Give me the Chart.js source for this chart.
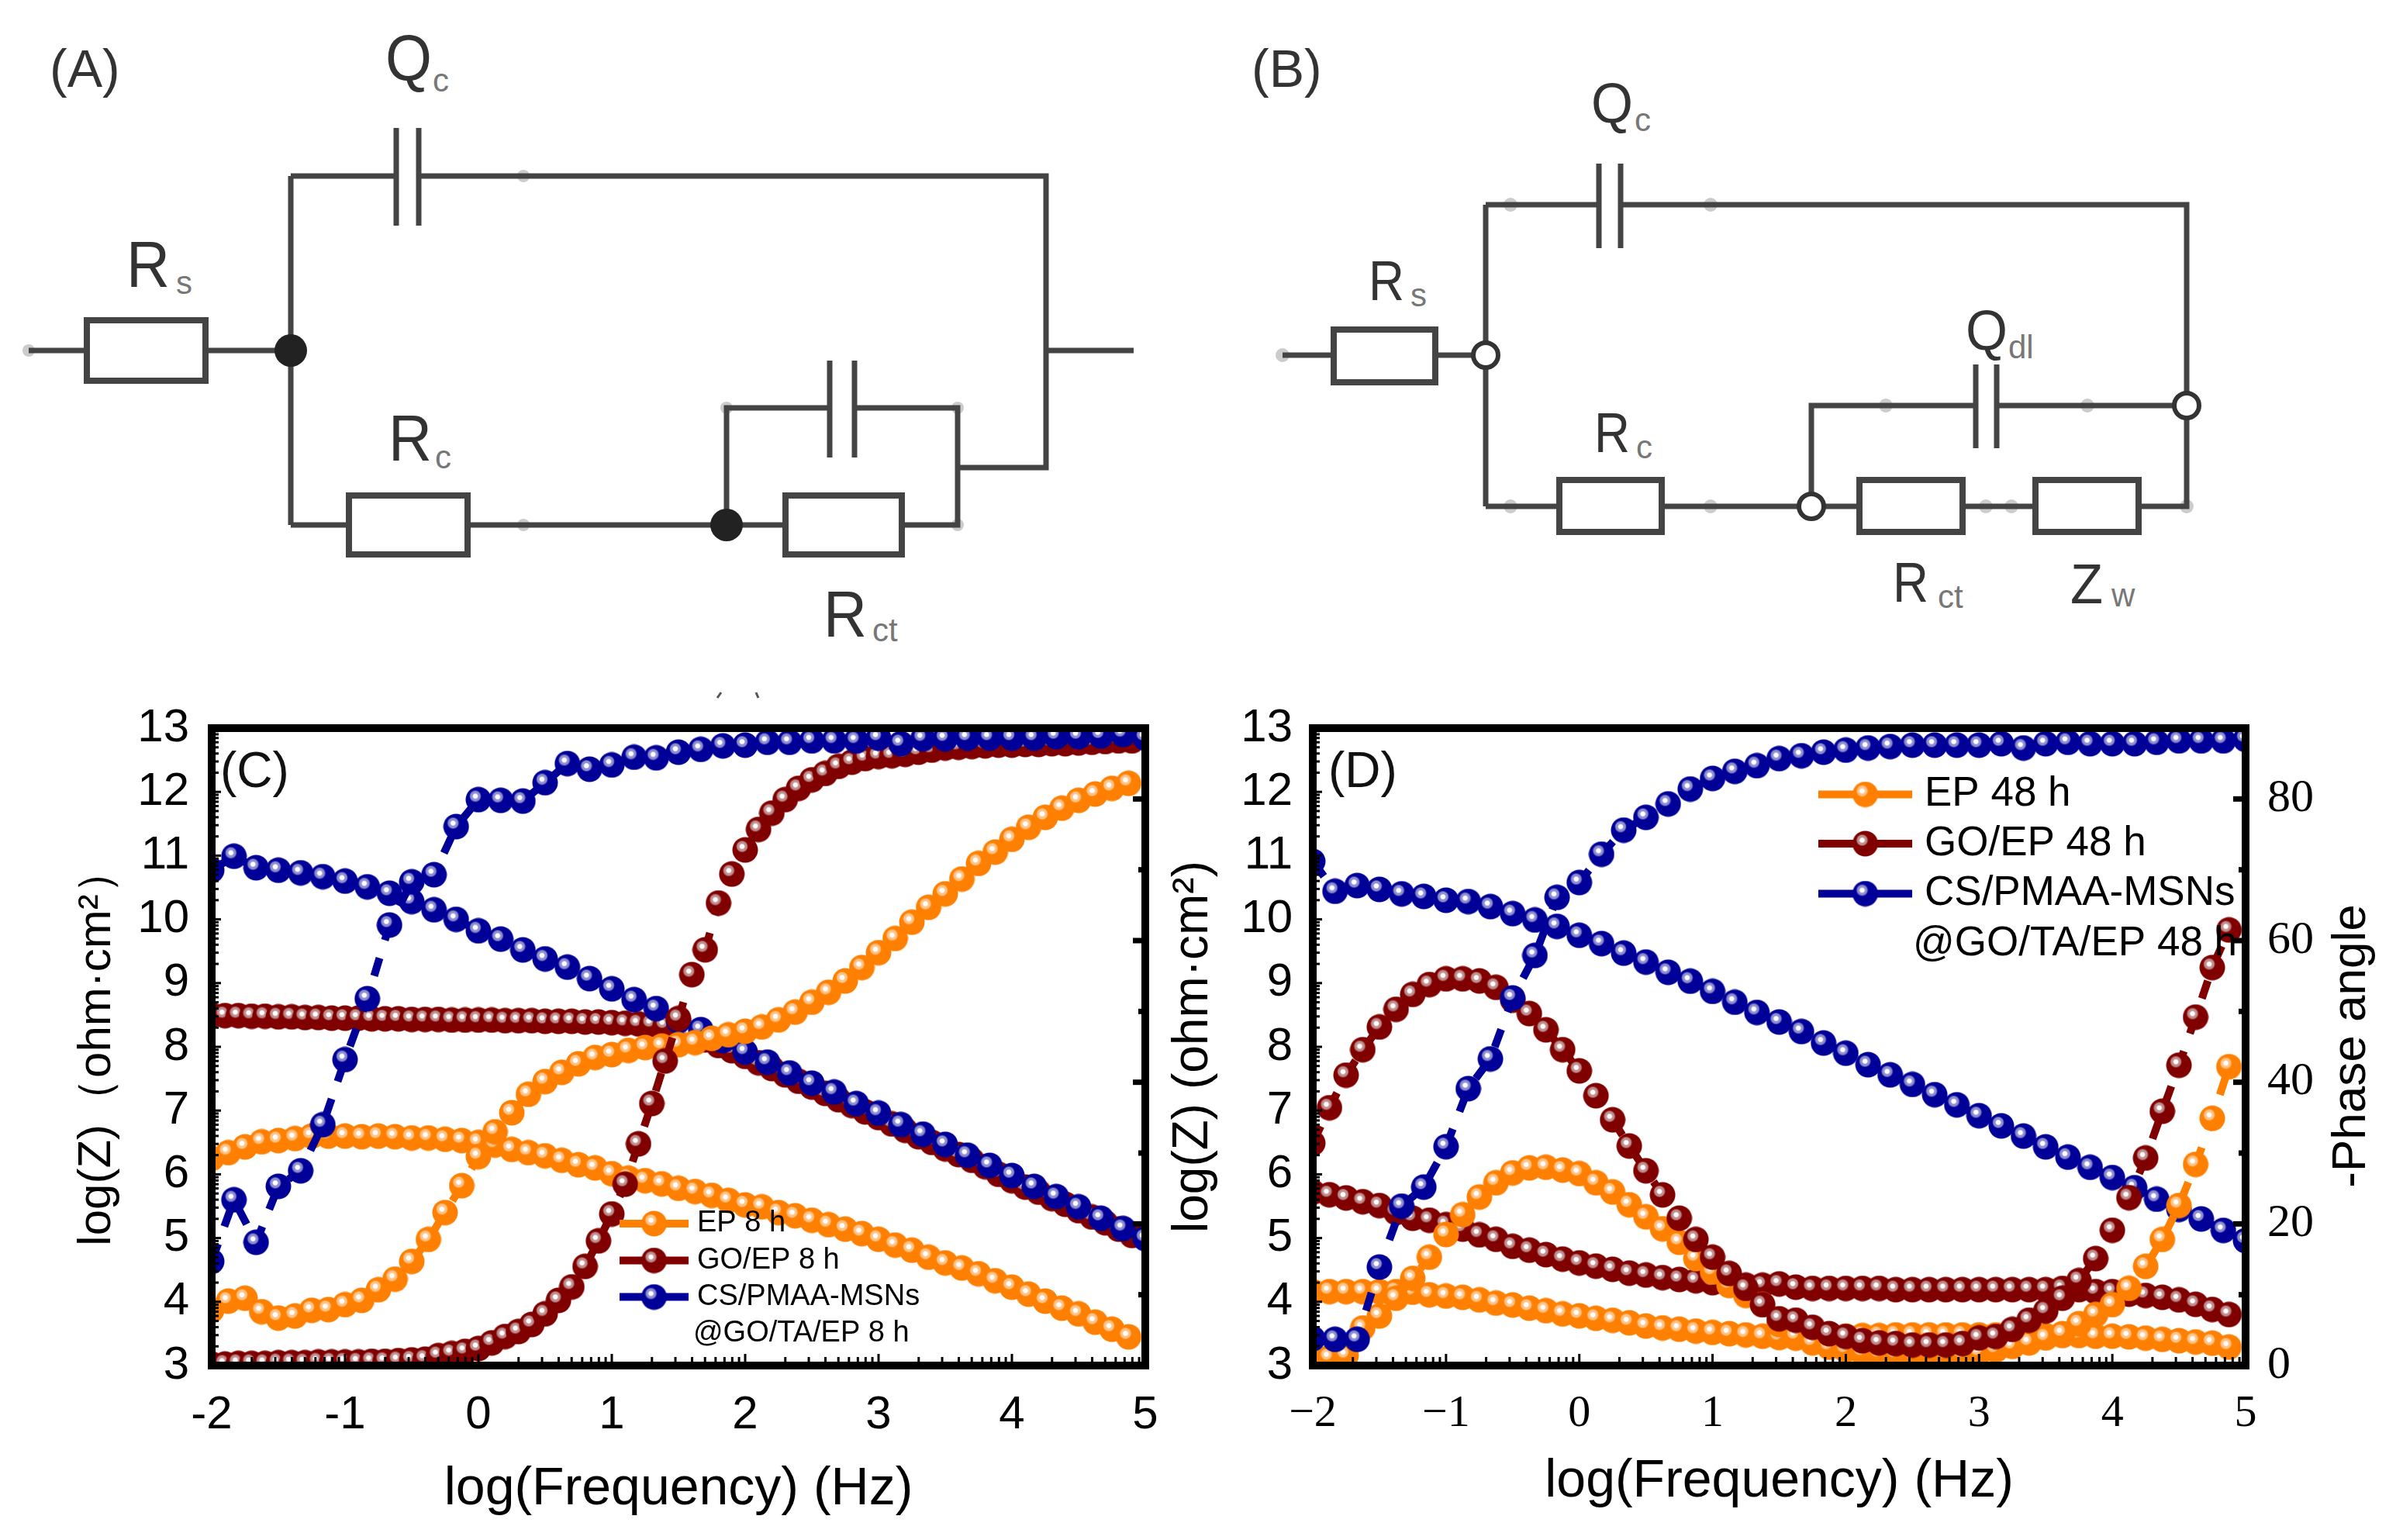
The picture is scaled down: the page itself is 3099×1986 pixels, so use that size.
<!DOCTYPE html>
<html>
<head>
<meta charset="utf-8">
<title>EIS</title>
<script src="https://cdn.jsdelivr.net/npm/chart.js@4/dist/chart.umd.min.js"></script>
<style>
  html, body { margin: 0; padding: 0; background: #fff; width: 3099px; height: 1986px; overflow: hidden; }
  canvas { position: absolute; }
  svg { position: absolute; left: 0; top: 0; }
  .ln { stroke: #444; stroke-width: 7; fill: none; }
  .box { stroke: #444; stroke-width: 8; fill: #fff; }
  .dot { fill: #ccc; }
  .big { font-family: "Liberation Sans"; fill: #333; }
  .sub { font-family: "Liberation Sans"; fill: #777; font-size: 42px; }
  .panel { font-family: "Liberation Sans"; fill: #111; }
</style>
</head>
<body>
<svg width="3099" height="1986" xmlns="http://www.w3.org/2000/svg">
  <!-- circuit A -->
  <g>
    <circle class="dot" cx="675" cy="227" r="8"/><circle class="dot" cx="675" cy="677" r="8"/>
    <circle class="dot" cx="37" cy="452" r="8"/><circle class="dot" cx="1235" cy="526" r="8"/>
    <circle class="dot" cx="937" cy="526" r="8"/><circle class="dot" cx="1235" cy="677" r="8"/>
    <path class="ln" d="M37 452H112M265 452H375M375 227V677M375 227H511M540 227H1349V603H1235M1349 452H1462"/>
    <path class="ln" d="M511 165V291M540 165V291M1070 465V590M1102 465V590"/>
    <path class="ln" d="M375 677H450M603 677H1013M1163 677H1235V526H1102M1070 526H937V677"/>
    <rect class="box" x="112" y="413" width="153" height="78"/>
    <rect class="box" x="450" y="639" width="153" height="76"/>
    <rect class="box" x="1013" y="639" width="150" height="76"/>
    <circle cx="375" cy="452" r="21" fill="#222"/><circle cx="937" cy="677" r="21" fill="#222"/>
    <path d="M925 900L930 893M975 893L978 900" stroke="#555" stroke-width="3" fill="none"/>
    <text class="big" x="64" y="112" font-size="68">(A)</text>
    <text class="big" x="497" y="103" font-size="84" textLength="60" lengthAdjust="spacingAndGlyphs">Q</text><text class="sub" x="558" y="118">c</text>
    <text class="big" x="163" y="370" font-size="84" textLength="56" lengthAdjust="spacingAndGlyphs">R</text><text class="sub" x="227" y="379">s</text>
    <text class="big" x="501" y="594" font-size="84" textLength="56" lengthAdjust="spacingAndGlyphs">R</text><text class="sub" x="561" y="604">c</text>
    <text class="big" x="1062" y="821" font-size="84" textLength="56" lengthAdjust="spacingAndGlyphs">R</text><text class="sub" x="1125" y="827">ct</text>
  </g>
  <!-- circuit B -->
  <g>
    <circle class="dot" cx="1654" cy="458" r="9"/><circle class="dot" cx="1948" cy="264" r="9"/>
    <circle class="dot" cx="2206" cy="264" r="9"/><circle class="dot" cx="1948" cy="653" r="9"/>
    <circle class="dot" cx="2206" cy="653" r="9"/><circle class="dot" cx="2432" cy="523" r="9"/>
    <circle class="dot" cx="2692" cy="523" r="9"/><circle class="dot" cx="2561" cy="653" r="9"/>
    <circle class="dot" cx="2594" cy="653" r="9"/><circle class="dot" cx="2820" cy="653" r="9"/>
    <path class="ln" d="M1654 458H1720M1851 458H1916M1916 264V653M1916 264H2062M2090 264H2820V653H2758"/>
    <path class="ln" d="M2062 211V320M2090 211V320M2548 470V578M2575 470V578"/>
    <path class="ln" d="M2820 523H2575M2548 523H2336V653M1916 653H2011M2143 653H2398M2531 653H2625"/>
    <rect class="box" x="1720" y="425" width="131" height="68"/>
    <rect class="box" x="2011" y="619" width="132" height="67"/>
    <rect class="box" x="2398" y="619" width="133" height="67"/>
    <rect class="box" x="2625" y="619" width="133" height="67"/>
    <circle cx="1916" cy="458" r="16" fill="#fff" stroke="#333" stroke-width="6"/>
    <circle cx="2336" cy="653" r="16" fill="#fff" stroke="#333" stroke-width="6"/>
    <circle cx="2820" cy="523" r="16" fill="#fff" stroke="#333" stroke-width="6"/>
    <text class="big" x="1614" y="112" font-size="68">(B)</text>
    <text class="big" x="2052" y="158" font-size="72" textLength="54" lengthAdjust="spacingAndGlyphs">Q</text><text class="sub" x="2108" y="169">c</text>
    <text class="big" x="1765" y="387" font-size="72" textLength="46" lengthAdjust="spacingAndGlyphs">R</text><text class="sub" x="1819" y="395">s</text>
    <text class="big" x="2535" y="451" font-size="72" textLength="54" lengthAdjust="spacingAndGlyphs">Q</text><text class="sub" x="2590" y="462">dl</text>
    <text class="big" x="2056" y="583" font-size="72" textLength="46" lengthAdjust="spacingAndGlyphs">R</text><text class="sub" x="2110" y="591">c</text>
    <text class="big" x="2441" y="776" font-size="72" textLength="46" lengthAdjust="spacingAndGlyphs">R</text><text class="sub" x="2499" y="784">ct</text>
    <text class="big" x="2670" y="778" font-size="72" textLength="42" lengthAdjust="spacingAndGlyphs">Z</text><text class="sub" x="2723" y="782">w</text>
  </g>
</svg>
<canvas id="chartC" width="1510" height="1086" style="left:0px;top:900px"></canvas>
<canvas id="chartD" width="1639" height="1086" style="left:1460px;top:900px"></canvas>
<svg width="3099" height="1986" xmlns="http://www.w3.org/2000/svg" style="pointer-events:none">
  <text class="panel" x="284" y="1015" font-size="64">(C)</text>
  <text class="panel" x="1713" y="1015" font-size="64">(D)</text>
</svg>

<script>
// log(f) grids, one per sampling density
const x6 = [-2,-1.833,-1.667,-1.5,-1.333,-1.167,-1,-0.833,-0.667,-0.5,-0.333,-0.167,0,0.167,0.333,0.5,0.667,0.833,1,1.167,1.333,1.5,1.667,1.833,2,2.167,2.333,2.5,2.667,2.833,3,3.167,3.333,3.5,3.667,3.833,4,4.167,4.333,4.5,4.667,4.833,5];
const x8 = [-2,-1.875,-1.75,-1.625,-1.5,-1.375,-1.25,-1.125,-1,-0.875,-0.75,-0.625,-0.5,-0.375,-0.25,-0.125,0,0.125,0.25,0.375,0.5,0.625,0.75,0.875,1,1.125,1.25,1.375,1.5,1.625,1.75,1.875,2,2.125,2.25,2.375,2.5,2.625,2.75,2.875,3,3.125,3.25,3.375,3.5,3.625,3.75,3.875,4,4.125,4.25,4.375,4.5,4.625,4.75,4.875];
const x10 = [-2,-1.9,-1.8,-1.7,-1.6,-1.5,-1.4,-1.3,-1.2,-1.1,-1,-0.9,-0.8,-0.7,-0.6,-0.5,-0.4,-0.3,-0.2,-0.1,0,0.1,0.2,0.3,0.4,0.5,0.6,0.7,0.8,0.9,1,1.1,1.2,1.3,1.4,1.5,1.6,1.7,1.8,1.9,2,2.1,2.2,2.3,2.4,2.5,2.6,2.7,2.8,2.9,3,3.1,3.2,3.3,3.4,3.5,3.6,3.7,3.8,3.9,4,4.1,4.2,4.3,4.4,4.5,4.6,4.7,4.8,4.9];

// panel C, 8 h
const zEp8 = [6.25,6.34,6.43,6.51,6.53,6.56,6.6,6.6,6.6,6.59,6.6,6.59,6.57,6.57,6.55,6.53,6.5,6.46,6.39,6.34,6.29,6.22,6.15,6.1,6.01,5.94,5.9,5.85,5.78,5.73,5.67,5.59,5.52,5.49,5.4,5.35,5.28,5.21,5.14,5.07,4.98,4.89,4.81,4.7,4.61,4.53,4.44,4.33,4.23,4.12,4.01,3.9,3.81,3.68,3.57,3.45];
const phEp8 = [7.8,9.1,9.5,7.6,6.7,7,7.8,7.9,8.6,9.2,10.7,12.2,14.7,17.8,21.6,25.4,29.5,33,35.7,38.3,40.1,41.4,42.6,43.5,43.9,44.5,44.9,45.1,45.3,45.6,46.2,46.7,47.2,47.8,48.8,49.9,51.3,52.7,54.3,56.2,58.3,60.3,62.6,64.7,66.6,68.7,70.9,72.5,74.3,76,77.4,78.7,79.8,80.7,81.5,82.2];
const zGo8 = [8.5,8.49,8.49,8.48,8.48,8.47,8.47,8.46,8.46,8.45,8.45,8.45,8.44,8.44,8.44,8.43,8.43,8.43,8.42,8.42,8.42,8.42,8.41,8.41,8.41,8.4,8.4,8.4,8.39,8.39,8.38,8.37,8.36,8.35,8.33,8.27,8.19,8.11,8.02,7.94,7.85,7.75,7.66,7.56,7.46,7.37,7.27,7.17,7.08,6.98,6.89,6.79,6.69,6.59,6.5,6.4,6.31,6.22,6.12,6.0,5.9,5.8,5.72,5.62,5.53,5.43,5.33,5.24,5.14,5.04];
const phGo8 = [0.2,0.2,0.3,0.3,0.3,0.4,0.4,0.4,0.5,0.5,0.5,0.5,0.6,0.6,0.7,0.8,0.9,1.4,1.7,2,2.4,3.2,4.1,4.8,5.8,7.3,9.2,11.1,14,17.6,21.4,25.6,31.3,37,43,49,55.2,58.7,65.3,69.4,72.8,75.7,78,79.9,81.5,82.7,83.6,84.6,85.2,85.7,86,86.1,86.3,86.6,86.9,87.2,87.3,87.4,87.5,87.6,87.6,87.7,87.7,87.8,87.8,87.9,88,88.1,88.2,88.2];
const zCs8 = [10.77,10.99,10.81,10.77,10.73,10.67,10.6,10.51,10.41,10.28,10.15,10,9.82,9.69,9.52,9.38,9.25,9.07,8.91,8.74,8.6,8.41,8.27,8.1,7.92,7.76,7.59,7.43,7.29,7.11,6.96,6.78,6.63,6.47,6.3,6.14,5.98,5.81,5.65,5.49,5.31,5.15,4.99];
const phCs8 = [14.7,23.4,17.4,25.3,27.5,34,43.2,51.8,62.2,68.3,69.3,76.1,79.9,79.8,79.7,82.3,85,84.2,84.8,85.9,85.8,86.6,87,87.5,87.6,88,88,88.2,88.2,88.2,88.6,87.8,88.5,88.5,88.6,88.6,88.6,88.6,88.8,88.8,88.9,89.1,88.6];

// panel D, 48 h
const zEp48 = [4.16,4.16,4.16,4.16,4.16,4.16,4.15,4.11,4.09,4.07,4.03,3.98,3.95,3.9,3.86,3.81,3.78,3.74,3.71,3.67,3.62,3.59,3.57,3.54,3.52,3.5,3.48,3.46,3.44,3.43,3.44,3.45,3.46,3.47,3.47,3.48,3.48,3.48,3.48,3.48,3.48,3.48,3.48,3.47,3.47,3.47,3.47,3.46,3.46,3.45,3.43,3.41,3.39,3.37,3.35,3.29];
const phEp48 = [0.9,1.1,1.4,5.3,7,9.5,12.3,15.3,18.5,21.3,23.8,25.8,27.2,27.9,28,27.6,27.1,25.8,24.5,22.7,21,19.3,17.4,15.1,13.2,11.3,9.9,8.6,5.8,4.1,3.2,2.6,2.2,1.8,1.6,1.5,1.4,1.4,1.4,1.5,1.8,2.2,2.7,3.2,3.9,4.5,5.9,7.2,8.6,10.9,14,17.8,22.6,28.4,34.9,42.2];
const zGo48 = [5.72,5.68,5.63,5.57,5.51,5.4,5.31,5.28,5.21,5.14,5.05,4.98,4.87,4.81,4.74,4.67,4.61,4.56,4.51,4.45,4.42,4.38,4.35,4.33,4.3,4.29,4.26,4.26,4.28,4.23,4.21,4.21,4.21,4.21,4.21,4.19,4.19,4.19,4.19,4.19,4.19,4.19,4.19,4.19,4.19,4.21,4.19,4.16,4.16,4.12,4.1,4.07,4.03,3.96,3.88,3.8];
const phGo48 = [31.4,36.4,41,44.6,47.8,50.3,52.4,53.8,54.6,54.6,54.3,53.4,51.6,49.7,47.4,44.6,41.6,38.1,34.7,31,27.5,24.1,20.8,17.8,15.3,13,10.9,8.6,6.6,6.4,5.4,4.5,4.1,3.5,3.2,3.1,2.9,2.9,2.9,3.1,3.9,4.1,5.1,6.4,7.7,9.5,12,15.1,19.1,23.7,29.3,35.9,42.4,49.2,56.2,61.5];
const zCs48 = [10.91,10.44,10.53,10.47,10.4,10.36,10.3,10.28,10.2,10.09,9.99,9.89,9.75,9.62,9.47,9.33,9.17,9.03,8.87,8.7,8.54,8.39,8.24,8.06,7.9,7.72,7.56,7.41,7.25,7.09,6.92,6.76,6.6,6.43,6.27,6.11,5.95,5.79,5.61,5.45,5.3,5.12,4.96];
const phCs48 = [3.8,3.7,3.7,13.9,22.5,25.2,30.9,39.1,43.3,51.9,57.9,66.1,68.2,72.2,75.6,77.4,79.3,81.4,82.9,83.9,84.7,85.7,86.1,86.6,86.9,87.2,87.4,87.6,87.6,87.6,87.6,87.8,87.2,87.8,88,87.8,87.8,87.8,88,88.2,88.2,88.2,88.4];

// ticks
const xTicksC = ["-2","-1","0","1","2","3","4","5"];
const xTicksD = ["\u22122","\u22121","0","1","2","3","4","5"];
const yTicks = ["3","4","5","6","7","8","9","10","11","12","13"];
const phaseTicks = ["0","20","40","60","80"];
const logMinor = [0.301,0.477,0.602,0.699,0.778,0.845,0.903,0.954];

const namesC = ["EP 8 h","GO/EP 8 h","CS/PMAA-MSNs","@GO/TA/EP 8 h"];
const namesD = ["EP 48 h","GO/EP 48 h","CS/PMAA-MSNs","@GO/TA/EP 48 h"];

const ORANGE = "#ff8000", MAROON = "#800000", BLUE = "#000099";
const SANS = "Liberation Sans", SERIF = "Liberation Serif";

// shiny ball marker
function ball(color, light) {
  var c = document.createElement("canvas");
  c.width = 34; c.height = 34;
  var g = c.getContext("2d");
  g.fillStyle = color;
  g.beginPath(); g.arc(17, 17, 16.5, 0, Math.PI * 2); g.fill();
  var hx = 13, hy = 12.5;
  var grad = g.createRadialGradient(hx, hy, 0, hx, hy, 8);
  grad.addColorStop(0, "#ffffff");
  grad.addColorStop(0.32, "#ffffff");
  grad.addColorStop(0.5, light);
  grad.addColorStop(0.75, light);
  grad.addColorStop(1, color);
  g.fillStyle = grad;
  g.beginPath(); g.arc(hx, hy, 8, 0, Math.PI * 2); g.fill();
  return c;
}
const ballOrange = ball(ORANGE, "#ffc48a");
const ballMaroon = ball(MAROON, "#c08f8f");
const ballBlue = ball(BLUE, "#8f8fd0");

function series(xs, ys, color, img, axis) {
  return {
    data: xs.map(function (x, i) { return { x: x, y: ys[i] }; }),
    yAxisID: axis,
    borderColor: color,
    backgroundColor: color,
    borderWidth: 10,
    borderDash: [24, 24],
    pointStyle: img,
    pointRadius: 16,
    tension: 0,
    clip: 0
  };
}

// frame, inward ticks and legend, drawn over the data
const decor = {
  id: "decor",
  afterDatasetsDraw: function (chart, args, opts) {
    var ctx = chart.ctx, a = chart.chartArea;
    var sx = chart.scales.x, sy = chart.scales.y, sp = chart.scales.y2;
    ctx.save();
    ctx.strokeStyle = "#000";
    ctx.lineWidth = 3;
    for (var n = -2; n <= 5; n++) {
      var px = sx.getPixelForValue(n);
      ctx.beginPath(); ctx.moveTo(px, a.bottom); ctx.lineTo(px, a.bottom - 15); ctx.stroke();
      logMinor.forEach(function (m) {
        if (n + m > 5) return;
        var p = sx.getPixelForValue(n + m);
        ctx.beginPath(); ctx.moveTo(p, a.bottom); ctx.lineTo(p, a.bottom - 11); ctx.stroke();
      });
    }
    for (var k = 3; k <= 13; k++) {
      var py = sy.getPixelForValue(k);
      ctx.beginPath(); ctx.moveTo(a.left, py); ctx.lineTo(a.left + 12, py); ctx.stroke();
      logMinor.forEach(function (m) {
        if (k + m > 13) return;
        var p = sy.getPixelForValue(k + m);
        ctx.beginPath(); ctx.moveTo(a.left, p); ctx.lineTo(a.left + 9, p); ctx.stroke();
      });
    }
    ctx.lineWidth = 7;
    for (var d = 10; d <= 80; d += 10) {
      var pr = sp.getPixelForValue(d);
      ctx.beginPath(); ctx.moveTo(a.right, pr); ctx.lineTo(a.right - (d % 20 === 0 ? 16 : 9), pr); ctx.stroke();
    }
    ctx.lineWidth = 10;
    ctx.strokeRect(a.left, a.top, a.right - a.left, a.bottom - a.top);

    // legend
    var L = opts.legend;
    ctx.font = L.size + "px '" + SANS + "'";
    ctx.textBaseline = "middle";
    ctx.textAlign = "left";
    ctx.fillStyle = "#000";
    var cols = [ORANGE, MAROON, BLUE], imgs = [ballOrange, ballMaroon, ballBlue];
    L.rows.forEach(function (ry, i) {
      ctx.strokeStyle = cols[i];
      ctx.lineWidth = 10;
      ctx.beginPath(); ctx.moveTo(L.x0, ry); ctx.lineTo(L.x1, ry); ctx.stroke();
      ctx.drawImage(imgs[i], (L.x0 + L.x1) / 2 - 17, ry - 17);
      ctx.fillText(L.names[i], L.tx, ry);
    });
    ctx.fillText(L.names[3], L.tx4, L.y4);

    if (opts.phaseTitle) {
      ctx.translate(opts.phaseTitle.x, opts.phaseTitle.y);
      ctx.rotate(-Math.PI / 2);
      ctx.font = "62px '" + SANS + "'";
      ctx.textAlign = "center";
      ctx.textBaseline = "alphabetic";
      ctx.fillText("-Phase angle", 0, 0);
    }
    ctx.restore();
  }
};

// tick labels must not push the plot area around
function noPad(s) {
  s.paddingTop = 0; s.paddingBottom = 0; s.paddingLeft = 0; s.paddingRight = 0;
}

function panel(id, o) {
  return new Chart(document.getElementById(id), {
    type: "line",
    data: { datasets: o.datasets },
    plugins: [decor],
    options: {
      responsive: false,
      animation: false,
      devicePixelRatio: 1,
      events: [],
      layout: { autoPadding: false, padding: { top: 39, right: o.padRight, left: 0, bottom: 0 } },
      plugins: {
        legend: { display: false },
        tooltip: { enabled: false },
        decor: { legend: o.legend, phaseTitle: o.phaseTitle }
      },
      scales: {
        x: {
          type: "linear", min: -2, max: 5,
          afterFit: function (s) { s.height = 225; noPad(s); },
          grid: { display: false }, border: { display: false },
          ticks: {
            stepSize: 1, autoSkip: false, maxRotation: 0, padding: o.xPad, color: "#000",
            font: { family: o.xFont, size: o.xSize },
            callback: function (v, i) { return o.xLabels[i]; }
          },
          title: { display: true, text: "log(Frequency) (Hz)", color: "#000", padding: { top: 0, bottom: o.xTitlePad },
            font: { family: SANS, size: 68 } }
        },
        y: {
          type: "linear", position: "left", min: 3, max: 13,
          afterFit: function (s) { s.width = o.yWidth; noPad(s); },
          grid: { display: false }, border: { display: false },
          ticks: {
            stepSize: 1, autoSkip: false, padding: o.yPad, color: "#000",
            font: { family: SANS, size: 60 },
            callback: function (v, i) { return yTicks[i]; }
          },
          title: { display: true, text: o.yTitle, color: "#000", padding: { top: o.yTitlePad, bottom: 0 },
            font: { family: SANS, size: o.yTitleSize } }
        },
        y2: {
          type: "linear", position: "right", min: 0, max: 90,
          display: o.showPhase,
          afterFit: function (s) { s.width = o.y2Width; noPad(s); },
          grid: { display: false }, border: { display: false },
          ticks: {
            stepSize: 20, includeBounds: false, autoSkip: false, padding: 20, color: "#000",
            font: { family: SERIF, size: 60 },
            callback: function (v, i) { return phaseTicks[i]; }
          }
        }
      }
    }
  });
}

// first dataset ends up on top
panel("chartC", {
  datasets: [
    series(x6, phCs8, BLUE, ballBlue, "y2"),
    series(x10, phGo8, MAROON, ballMaroon, "y2"),
    series(x8, phEp8, ORANGE, ballOrange, "y2"),
    series(x6, zCs8, BLUE, ballBlue, "y"),
    series(x10, zGo8, MAROON, ballMaroon, "y"),
    series(x8, zEp8, ORANGE, ballOrange, "y")
  ],
  padRight: 33,
  xLabels: xTicksC, xFont: SANS, xSize: 60, xPad: 20, xTitlePad: 24,
  yWidth: 273, yPad: 21, yTitle: "log(Z)\uFF08ohm\u00B7cm\u00B2\uFF09", yTitleSize: 60, yTitlePad: 89,
  showPhase: false, y2Width: 0,
  legend: { x0: 799, x1: 888, rows: [678, 725.5, 772.6], tx: 899, tx4: 894, y4: 820, size: 38, names: namesC }
});

panel("chartD", {
  datasets: [
    series(x6, phCs48, BLUE, ballBlue, "y2"),
    series(x8, phGo48, MAROON, ballMaroon, "y2"),
    series(x8, phEp48, ORANGE, ballOrange, "y2"),
    series(x6, zCs48, BLUE, ballBlue, "y"),
    series(x8, zGo48, MAROON, ballMaroon, "y"),
    series(x8, zEp48, ORANGE, ballOrange, "y")
  ],
  padRight: 0,
  xLabels: xTicksD, xFont: SERIF, xSize: 58, xPad: 20, xTitlePad: 34,
  yWidth: 233, yPad: 18, yTitle: "log(Z) (ohm\u00B7cm\u00B2)", yTitleSize: 64, yTitlePad: 41,
  showPhase: true, y2Width: 203,
  phaseTitle: { x: 1590, y: 449 },
  legend: { x0: 885, x1: 1006, rows: [124.5, 188, 252.5], tx: 1022, tx4: 1007, y4: 317, size: 53, names: namesD }
});
</script>
</body>
</html>
